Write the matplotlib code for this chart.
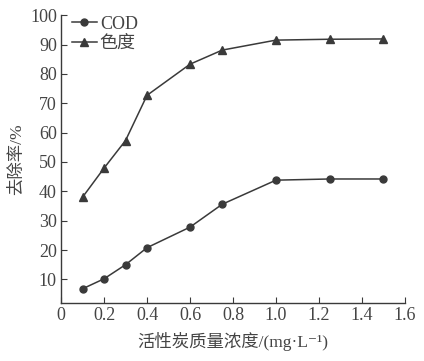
import matplotlib.pyplot as plt

fams = ['Liberation Serif', 'Noto Sans CJK SC', 'DejaVu Serif']
plt.rcParams['font.family'] = fams

# dosage of activated carbon (mg/L)
dose = [0.1, 0.2, 0.3, 0.4, 0.6, 0.75, 1.0, 1.25, 1.5]
cod = [6.8, 10.2, 15.0, 20.8, 27.8, 35.6, 43.8, 44.2, 44.2]
color_rm = [38.0, 47.9, 57.3, 72.7, 83.3, 88.1, 91.5, 91.8, 91.9]

xticks = [0, 0.2, 0.4, 0.6, 0.8, 1.0, 1.2, 1.4, 1.6]
xticklabels = ['0', '0.2', '0.4', '0.6', '0.8', '1.0', '1.2', '1.4', '1.6']
yticks = [10, 20, 30, 40, 50, 60, 70, 80, 90, 100]

fig = plt.figure(figsize=(4.24, 3.61), dpi=100)
ax = fig.add_axes([0.144, 0.161, 0.811, 0.797])

lc = '#3a3a3a'
tc = '#444444'
ax.plot(dose, cod, color=lc, lw=1.1, marker='o', ms=5, label='COD')
ax.plot(dose, color_rm, color=lc, lw=1.1, marker='^', ms=5.5, label='色度')

ax.set_xlim(0, 1.6)
ax.set_ylim(2, 100)
ax.set_xticks(xticks)
ax.set_xticklabels(xticklabels)
ax.set_yticks(yticks)

for s in ['top', 'right']:
    ax.spines[s].set_visible(False)
for s in ['left', 'bottom']:
    ax.spines[s].set_color(lc)
    ax.spines[s].set_linewidth(1.0)
ax.tick_params(direction='in', length=4, color=lc, labelsize=13, labelcolor=tc, pad=3)

ax.set_xlabel('活性炭质量浓度/(mg·L⁻¹)', fontsize=12.5, color=tc, labelpad=6)
ax.set_ylabel('去除率/%', fontsize=12.5, color=tc, labelpad=4)

leg = ax.legend(loc='upper left', frameon=False, prop={'family': fams, 'size': 13},
                handlelength=1.4, handletextpad=0.15, borderaxespad=0.1,
                labelspacing=0.15, bbox_to_anchor=(0.005, 1.03), labelcolor=tc)
leg.get_texts()[0].set_fontfamily('Liberation Serif')

fig.savefig('out.png', dpi=100)
